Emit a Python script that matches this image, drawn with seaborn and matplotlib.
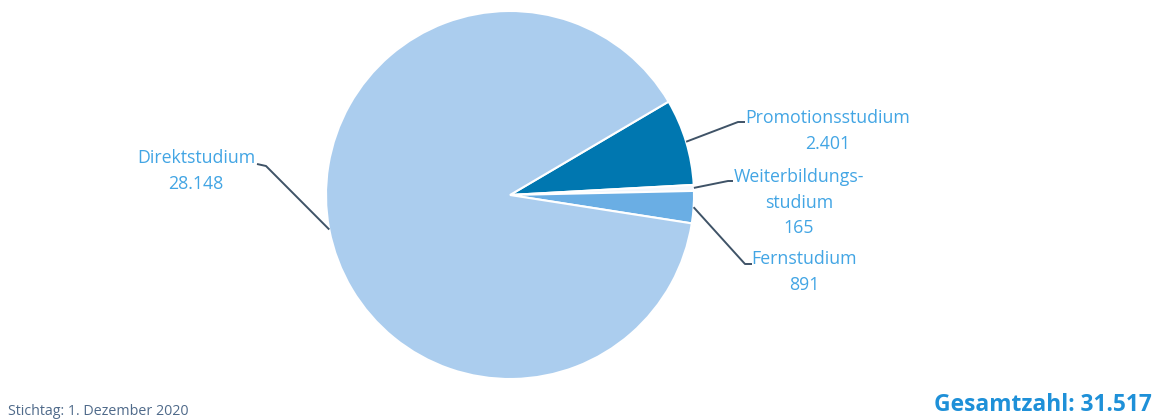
import numpy as np
import matplotlib.pyplot as plt
import seaborn as sns

# data
categories = ['Promotionsstudium', 'Weiterbildungs-\nstudium', 'Fernstudium', 'Direktstudium']
values = [2401, 165, 891, 28148]
value_labels = ['2.401', '165', '891', '28.148']
total_label = 'Gesamtzahl: 31.517'
date_label = 'Stichtag: 1. Dezember 2020'

colors = ['#0077b0', '#f2f7fd', '#6aaee4', '#abcdee']

sns.set_theme(style='white')
plt.rcParams['font.family'] = ['Open Sans', 'DejaVu Sans']

fig = plt.figure(figsize=(11.59, 4.19), dpi=100)
ax = fig.add_axes([0, 0, 1, 1])

cx, cy, r = 510, 419 - 195, 184
wedges, _ = ax.pie(values, colors=colors, startangle=30.5, counterclock=False,
                   center=(cx, cy), radius=r,
                   wedgeprops=dict(edgecolor='white', linewidth=1.5))
ax.set_xlim(0, 1159)
ax.set_ylim(0, 419)
ax.set_aspect('equal')
ax.axis('off')

label_col = '#42a5e4'
line_col = '#3f5367'

# (elbow point, end point, text center x, text top y) in pixel coords (y from top)
layout = [
    ((738, 122), (745, 122), 828, 109),
    ((728, 181), (733, 181), 799, 168),
    ((745, 264), (752, 264), 804, 250),
    ((266, 166), (257, 164), 196, 149),
]

for w, cat, val, (elbow, end, tx, ty) in zip(wedges, categories, value_labels, layout):
    mid = np.deg2rad((w.theta1 + w.theta2) / 2)
    ax0 = cx + r * np.cos(mid)
    ay0 = cy + r * np.sin(mid)
    ax.plot([ax0, elbow[0], end[0]], [ay0, 419 - elbow[1], 419 - end[1]],
            color=line_col, lw=1.4, solid_capstyle='butt')
    ax.text(tx, 419 - ty, cat + '\n' + val, ha='center', va='top',
            fontsize=12.8, color=label_col, linespacing=1.55)

ax.text(8, 419 - 411, date_label, ha='left', va='center', fontsize=10.3, color='#4f6a8a')
ax.text(1152, 419 - 405, total_label, ha='right', va='center', fontsize=16.4,
        fontweight='bold', color='#1e90d8')

fig.savefig('out.png', dpi=100)
